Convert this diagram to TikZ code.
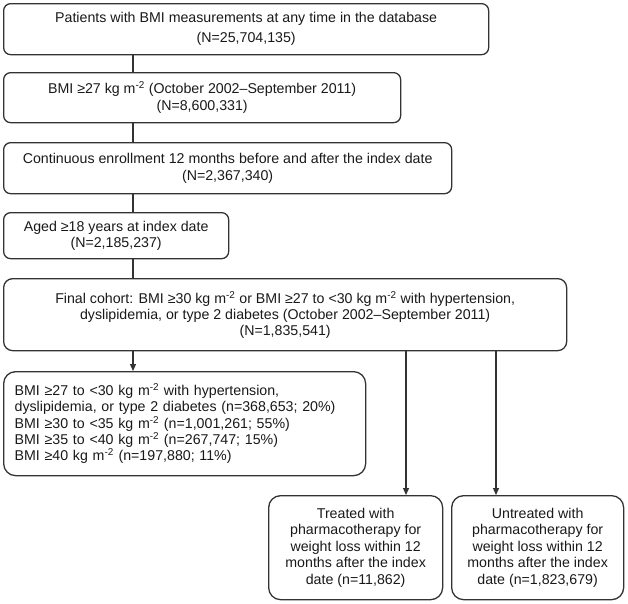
\documentclass[tikz,border=0pt]{standalone}
\usepackage{fontspec}
\setmainfont{Liberation Sans}
\usetikzlibrary{arrows.meta}
\newcommand{\sqm}{m\textsuperscript{-2}}
\begin{document}
\begin{tikzpicture}[x=1pt,y=-1pt,
  box/.style={draw=black!80, line width=1.3pt, rounded corners=7pt, anchor=north west,
    align=center, inner sep=0pt, font=\fontsize{14.2}{16.5}\selectfont, text=black!90},
  link/.style={draw=black!80, line width=1.2pt},
  arr/.style={link, -{Triangle[length=7pt,width=6pt]}}]
\useasboundingbox (0,0) rectangle (628,603);
\coordinate (sp) at (133,0);
\coordinate (tx) at (406,0);
\coordinate (ux) at (496,0);
\node[box, minimum width=485pt, minimum height=51pt, font=\fontsize{14.2}{20}\selectfont] (b1) at (3,3)
  {Patients with BMI measurements at any time in the database\\(N=25,704,135)};
\node[box, minimum width=397pt, minimum height=50pt, font=\fontsize{14.2}{17.3}\selectfont] (b2) at (3,72)
  {BMI ≥27 kg \sqm{} (October 2002–September 2011)\\(N=8,600,331)};
\node[box, minimum width=448pt, minimum height=51pt, font=\fontsize{14.2}{17.3}\selectfont] (b3) at (3,142)
  {Continuous enrollment 12 months before and after the index date\\(N=2,367,340)};
\node[box, minimum width=225pt, minimum height=46pt, font=\fontsize{14.2}{16}\selectfont] (b4) at (3,212)
  {Aged ≥18 years at index date\\(N=2,185,237)};
\node[box, rounded corners=9pt, minimum width=563pt, minimum height=72pt, font=\fontsize{14.2}{16}\selectfont] (b5) at (3,278)
  {Final cohort: BMI ≥30 kg \sqm{} or BMI ≥27 to <30 kg \sqm{} with hypertension,\\
   dyslipidemia, or type 2 diabetes (October 2002–September 2011)\\(N=1,835,541)};
\node[box, rounded corners=12pt, minimum width=362pt, minimum height=104pt, align=left,
  inner xsep=11pt, text width=340pt, font=\fontsize{14.2}{16.3}\selectfont] (b6) at (3,371)
  {BMI ≥27 to <30 kg \sqm{} with hypertension,\\
   dyslipidemia, or type 2 diabetes (n=368,653; 20\%)\\
   BMI ≥30 to <35 kg \sqm{} (n=1,001,261; 55\%)\\
   BMI ≥35 to <40 kg \sqm{} (n=267,747; 15\%)\\
   BMI ≥40 kg \sqm{} (n=197,880; 11\%)};
\node[box, rounded corners=12pt, minimum width=174pt, minimum height=104pt, font=\fontsize{14.2}{16.6}\selectfont] (tr) at (268,495)
  {Treated with\\pharmacotherapy for\\weight loss within 12\\months after the index\\date (n=11,862)};
\node[box, rounded corners=12pt, minimum width=172pt, minimum height=104pt, font=\fontsize{14.2}{16.6}\selectfont] (un) at (451,495)
  {Untreated with\\pharmacotherapy for\\weight loss within 12\\months after the index\\date (n=1,823,679)};
\draw[link] (b1.south -| sp) -- (b2.north -| sp);
\draw[link] (b2.south -| sp) -- (b3.north -| sp);
\draw[link] (b3.south -| sp) -- (b4.north -| sp);
\draw[link] (b4.south -| sp) -- (b5.north -| sp);
\draw[arr] (b5.south -| sp) -- (b6.north -| sp);
\draw[arr] (b5.south -| tx) -- (tr.north -| tx);
\draw[arr] (b5.south -| ux) -- (un.north -| ux);
\end{tikzpicture}
\end{document}
